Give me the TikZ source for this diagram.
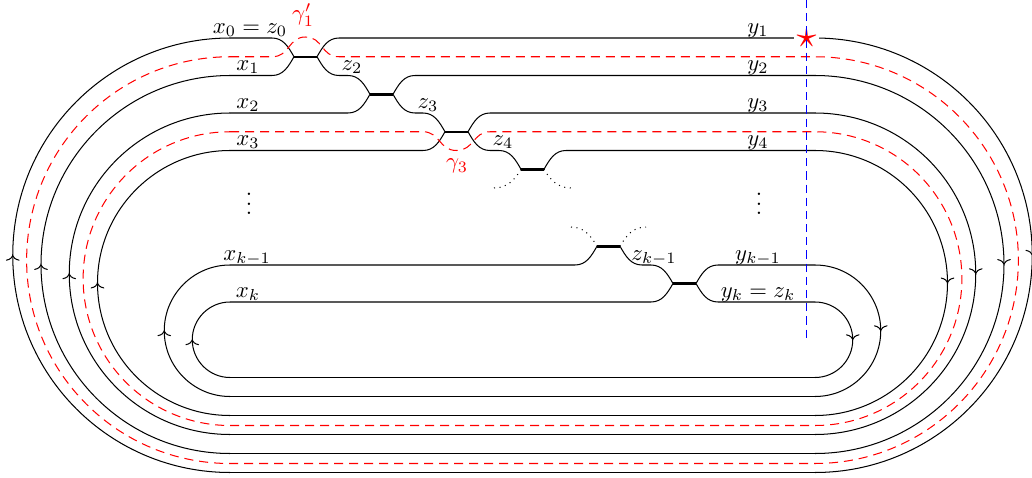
\documentclass[tikz,border=0pt]{standalone}
\usetikzlibrary{arrows.meta,decorations.markings}
\begin{document}
\begin{tikzpicture}[x=0.44pt,y=0.44pt,line width=0.45pt,
  junc/.style={line width=1.1pt},
  reddash/.style={red, dash pattern=on 4pt off 2.6pt},
  bluedash/.style={blue, line width=0.5pt, dash pattern=on 3.6pt off 2.2pt},
  arcarr/.style={postaction={decorate},decoration={markings,mark=at position 0.5 with {\arrow{Computer Modern Rightarrow[length=2.4pt,width=6pt]}}}},
  lab/.style={anchor=base, inner sep=0pt},
  redlab/.style={text=red, inner sep=0pt}]
\useasboundingbox (0,0) rectangle (1032,477);

% junction end points
\coordinate (J1l) at (294,420.25); \coordinate (J1r) at (317,420.25);
\coordinate (J2l) at (370,382.75); \coordinate (J2r) at (393,382.75);
\coordinate (J3l) at (445,345.25); \coordinate (J3r) at (468,345.25);
\coordinate (J4l) at (521,307.75); \coordinate (J4r) at (544,307.75);
\coordinate (Jal) at (597,230.75); \coordinate (Jar) at (620,230.75);
\coordinate (Jbl) at (673,193.5);  \coordinate (Jbr) at (696,193.5);

% loops: right arcs, bottom lines, left arcs
\foreach \t/\b in {439/4.5, 401.5/23.5, 364/42.5, 326.5/61.5, 212/80.5, 175/99.5} {
  \pgfmathsetmacro\r{(\t-\b)/2}
  \draw[arcarr] (815,\t) arc[start angle=90,end angle=-90,radius=\r];
  \draw (815,\b) -- (230,\b);
  \draw[arcarr] (230,\b) arc[start angle=-90,end angle=-270,radius=\r];
}

% junction bars
\foreach \j in {1,2,3,4,a,b} \draw[junc] (J\j l) -- (J\j r);

% left (x) strands
\draw (230,439) -- (272,439) to[out=0,in=120] (J1l);
\draw (230,401.5) -- (272,401.5) to[out=0,in=240] (J1l);
\draw (230,364) -- (348,364) to[out=0,in=240] (J2l);
\draw (230,326.5) -- (423,326.5) to[out=0,in=240] (J3l);
\draw (230,212) -- (575,212) to[out=0,in=240] (Jal);
\draw (230,175) -- (651,175) to[out=0,in=240] (Jbl);

% z strands
\draw (J1r) to[out=-60,in=180] (339,401.5) -- (348,401.5) to[out=0,in=120] (J2l);
\draw (J2r) to[out=-60,in=180] (415,364) -- (423,364) to[out=0,in=120] (J3l);
\draw (J3r) to[out=-60,in=180] (490,326.5) -- (499,326.5) to[out=0,in=120] (J4l);
\draw (Jar) to[out=-60,in=180] (642,212) -- (651,212) to[out=0,in=120] (Jbl);

% right (y) strands
\draw (J1r) to[out=60,in=180] (339,439) -- (815,439);
\draw (J2r) to[out=60,in=180] (415,401.5) -- (815,401.5);
\draw (J3r) to[out=60,in=180] (490,364) -- (815,364);
\draw (J4r) to[out=60,in=180] (566,326.5) -- (815,326.5);
\draw (Jbr) to[out=60,in=180] (718,212) -- (815,212);
\draw (Jbr) to[out=-60,in=180] (718,175) -- (815,175);

% dotted continuations
\draw[dotted] (494,289) to[out=0,in=240] (J4l);
\draw[dotted] (J4r) to[out=-60,in=180] (571,289);
\draw[dotted] (571,250) to[out=0,in=120] (Jal);
\draw[dotted] (Jar) to[out=60,in=180] (646,250);

% red dashed curves
\draw[reddash] (230,420.25) -- (272,420.25) .. controls (290,420.25) and (288,440) .. (305.5,440)
  .. controls (323,440) and (321,420.25) .. (339,420.25) -- (815,420.25)
  arc[start angle=90,end angle=-90,radius=203.375] -- (230,13.5)
  arc[start angle=-90,end angle=-270,radius=203.375];
\draw[reddash] (230,345.25) -- (423,345.25) .. controls (440,345.25) and (439,326.5) .. (456.5,326.5)
  .. controls (474,326.5) and (473,345.25) .. (490,345.25) -- (815,345.25)
  arc[start angle=90,end angle=-90,radius=146.875] -- (230,51.5)
  arc[start angle=-90,end angle=-270,radius=146.875];

% star and blue line
\node[fill=white, text=red, inner sep=0.6pt, scale=1.75] (star) at (806.5,439) {$\star$};
\coordinate (bt) at (806.5,477);
\coordinate (bb) at (806.5,137);
\draw[bluedash] (bt) -- (bb);

% labels
\node[lab] (l0) at (250,444) {$x_0 = z_0$};
\node[redlab] (g1) at (303,462) {$\gamma_1'$};
\node[lab] (lx1) at (248,406.5) {$x_1$};
\node[lab] (lz2) at (352,406.5) {$z_2$};
\node[lab] (lx2) at (248,369) {$x_2$};
\node[lab] (lz3) at (428,369) {$z_3$};
\node[lab] (lx3) at (248,331.5) {$x_3$};
\node[lab] (lz4) at (503,331.5) {$z_4$};
\node[redlab] (g3) at (457,311) {$\gamma_3$};
\node[lab] (ly1) at (758,444) {$y_1$};
\node[lab] (ly2) at (758,406.5) {$y_2$};
\node[lab] (ly3) at (758,369) {$y_3$};
\node[lab] (ly4) at (758,331.5) {$y_4$};
\node (vd1) at (249,280) {$\vdots$};
\node (vd2) at (759,280) {$\vdots$};
\node[lab] (lxk1) at (247,217) {$x_{k-1}$};
\node[lab] (lzk1) at (654,217) {$z_{k-1}$};
\node[lab] (lyk1) at (758,217) {$y_{k-1}$};
\node[lab] (lxk) at (248,180) {$x_k$};
\node[lab] (lyk) at (758,180) {$y_k = z_k$};
\end{tikzpicture}
\end{document}
